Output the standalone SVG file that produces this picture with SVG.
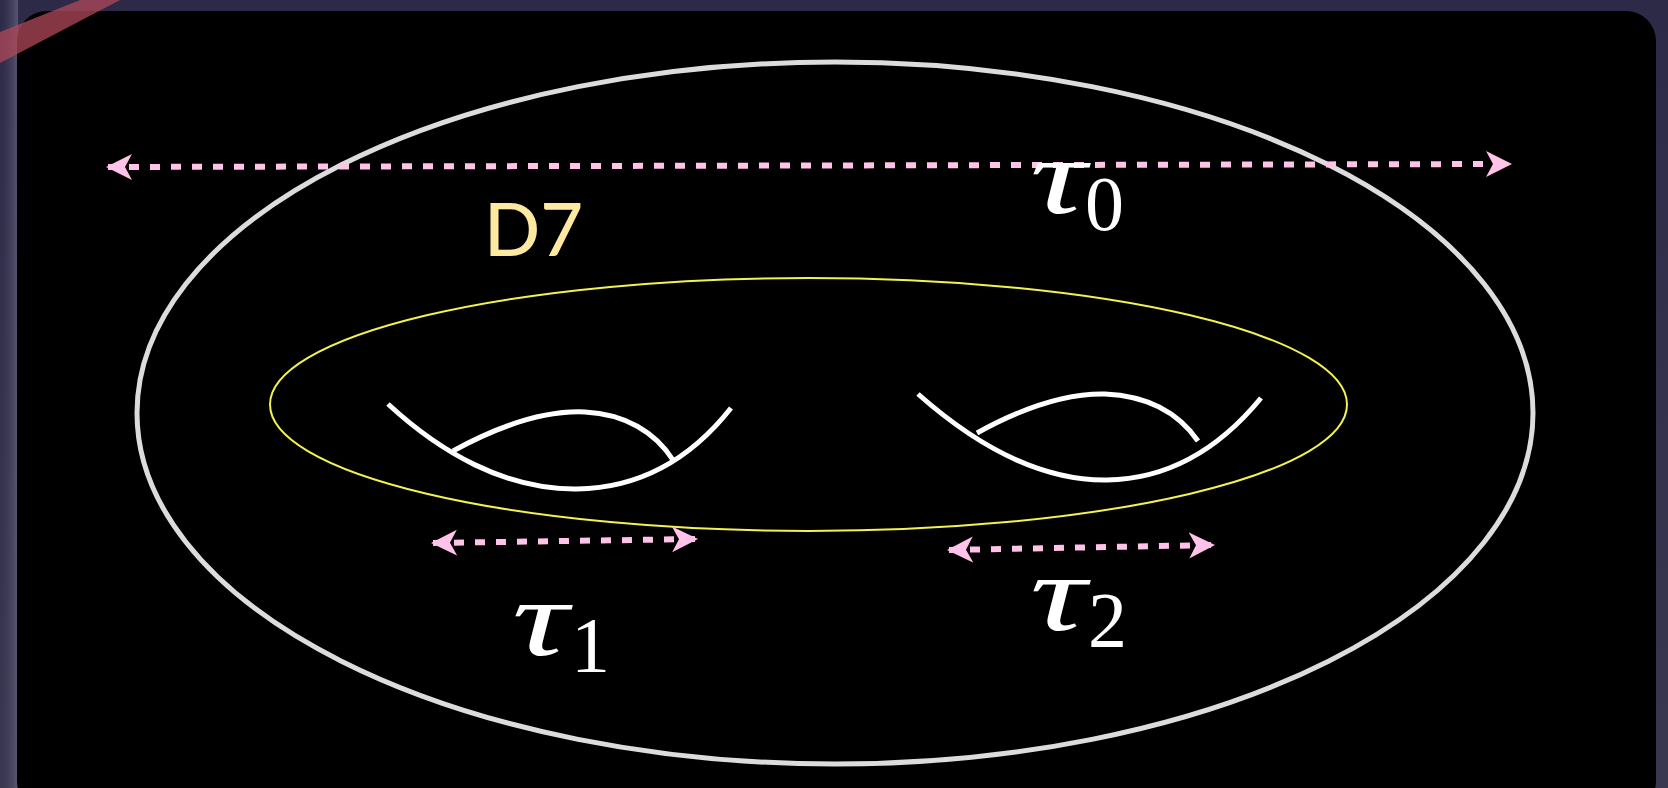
<svg xmlns="http://www.w3.org/2000/svg" width="1668" height="788" viewBox="0 0 1668 788">
<defs>
<linearGradient id="bg" x1="0" y1="0" x2="0" y2="1">
<stop offset="0" stop-color="#2c2a47"/>
<stop offset="1" stop-color="#3a3850"/>
</linearGradient>
<linearGradient id="lside" x1="0" y1="0" x2="1" y2="0">
<stop offset="0" stop-color="#3c3a58" stop-opacity="0"/>
<stop offset="1" stop-color="#62607a" stop-opacity="0.8"/>
</linearGradient>
<marker id="ah" viewBox="0 0 26 28" refX="24" refY="14" markerWidth="26" markerHeight="28" markerUnits="userSpaceOnUse" orient="auto-start-reverse">
<path d="M0 1 L26 14 L0 27 L7 14 Z" fill="#ffc2e8"/>
</marker>
<style>
.arr{stroke:#ffc2e8;stroke-width:6;stroke-dasharray:10 11;fill:none}
.hd{stroke:#ffffff;stroke-width:5;fill:none;stroke-linecap:butt}
.tau{font-family:"Liberation Serif","DejaVu Serif",serif;font-style:italic;fill:#ffffff}
.sub{font-family:"Liberation Serif","DejaVu Serif",serif;fill:#ffffff}
</style>
</defs>
<rect x="0" y="0" width="1668" height="788" fill="url(#bg)"/>
<rect x="0" y="0" width="18" height="788" fill="url(#lside)"/>
<rect x="17" y="11" width="1639" height="800" rx="30" ry="30" fill="#000000"/>
<polygon points="0,32 80,0 120,0 0,63" fill="#b04858" fill-opacity="0.75"/>

<g id="outer">
<ellipse cx="835" cy="413" rx="698" ry="351" fill="none" stroke="#dcdcdc" stroke-width="5"/>
</g>
<g id="inner">
<ellipse cx="808.5" cy="404.5" rx="538.5" ry="126.5" fill="none" stroke="#f2f250" stroke-width="2"/>
</g>
<g id="handle1">
<path class="hd" d="M388 404 C440 452 505 490 577 489 C640 488 690 460 731 408"/>
<path class="hd" d="M453 451 C495 428 540 410 585 412 C625 414 655 432 673 460"/>
</g>
<g id="handle2">
<path class="hd" d="M918 394 C970 440 1035 481 1107 480 C1170 479 1220 448 1261 398"/>
<path class="hd" d="M977 433 C1015 412 1060 393 1105 394 C1150 396 1180 415 1198 441"/>
</g>
<g id="label-d7">
<text x="484" y="256" font-family="Lato, 'Liberation Sans', sans-serif" font-size="74" font-weight="500" fill="#fde9a0">D7</text>
</g>
<g id="connectors">
<line class="arr" x1="108" y1="167" x2="1510" y2="164" marker-start="url(#ah)" marker-end="url(#ah)"/>
<line class="arr" x1="433" y1="543" x2="696" y2="539" marker-start="url(#ah)" marker-end="url(#ah)"/>
<line class="arr" x1="949" y1="550" x2="1213" y2="545" marker-start="url(#ah)" marker-end="url(#ah)"/>
</g>
<g id="label-tau0">
<text class="tau" transform="translate(1030 213) scale(1.45 1)" x="0" y="0" font-size="108">τ</text>
<text class="sub" x="1085" y="230" font-size="78">0</text>
</g>
<g id="label-tau1">
<text class="tau" transform="translate(512 655) scale(1.45 1)" x="0" y="0" font-size="108">τ</text>
<text class="sub" x="571" y="671" font-size="78">1</text>
</g>
<g id="label-tau2">
<text class="tau" transform="translate(1030 630) scale(1.45 1)" x="0" y="0" font-size="108">τ</text>
<text class="sub" x="1088" y="646" font-size="78">2</text>
</g>
</svg>
